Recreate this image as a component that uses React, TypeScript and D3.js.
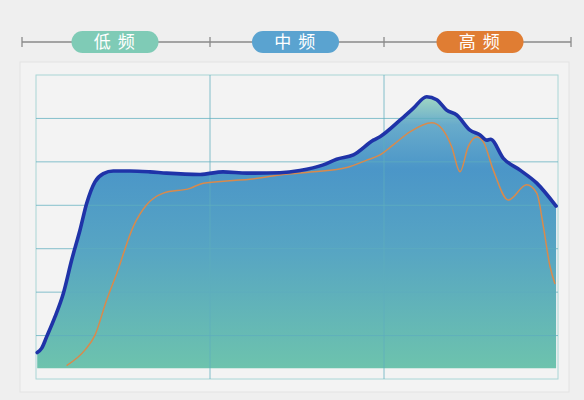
import * as d3 from "d3";
import React from "react";

// x: position across the three bands (0-300, 100 per band), y: level (grid step = 1)
const bands = ["低 频", "中 频", "高 频"];
const bandColors = ["#7fcbb6", "#5aa3d0", "#e07d33"];

const mainX = [0.7, 3.3, 6.1, 10.9, 15.7, 20.5, 25.3, 29.1, 33.9, 38.7, 44.4, 54, 65.5, 75.1, 94.3, 107.5, 121.3, 140.2, 151.7, 165.1, 172.8, 182.4, 193.9, 197.7, 209.2, 216.8, 224.5, 230.3, 236, 241.8, 249.4, 255.2, 259, 261.2, 268.6, 278.2, 287.8, 298.9];
const mainY = [0.61, 0.71, 0.97, 1.43, 1.97, 2.74, 3.43, 4.04, 4.54, 4.73, 4.79, 4.79, 4.77, 4.74, 4.71, 4.77, 4.74, 4.75, 4.8, 4.93, 5.06, 5.16, 5.5, 5.58, 5.96, 6.23, 6.5, 6.43, 6.19, 6.08, 5.73, 5.62, 5.5, 5.52, 5.08, 4.81, 4.51, 3.98];

const refX = [17.6, 28.2, 33.9, 40.6, 46.4, 55.9, 63.6, 73.2, 88.5, 96.1, 113.4, 123, 140.2, 159.4, 178.6, 190.1, 197.7, 205.3, 214.9, 227.4, 233.2, 238.9, 243.7, 248.4, 253.3, 257.1, 262.8, 271.4, 282, 287.8, 291.6, 295.4, 298.3];
const refY = [0.31, 0.67, 1.01, 1.82, 2.43, 3.51, 4.01, 4.28, 4.39, 4.51, 4.57, 4.6, 4.7, 4.77, 4.87, 5.04, 5.16, 5.39, 5.69, 5.9, 5.77, 5.35, 4.77, 5.35, 5.57, 5.46, 4.81, 4.12, 4.47, 4.28, 3.51, 2.59, 2.19];

const baseline = 0.25;

export default function App() {
  const width = 584;
  const height = 400;
  const plot = { left: 36, right: 558, top: 75, bottom: 379 };

  const xScale = d3.scaleLinear().domain([0, 300]).range([plot.left, plot.right]);
  const yScale = d3.scaleLinear().domain([0, 7]).range([plot.bottom, plot.top]);

  const mainData = mainX.map((x, i) => [x, mainY[i]] as [number, number]);
  const refData = refX.map((x, i) => [x, refY[i]] as [number, number]);

  const area = d3
    .area<[number, number]>()
    .curve(d3.curveMonotoneX)
    .x((d) => xScale(d[0]))
    .y0(yScale(baseline))
    .y1((d) => yScale(d[1]));
  const line = d3
    .line<[number, number]>()
    .curve(d3.curveMonotoneX)
    .x((d) => xScale(d[0]))
    .y((d) => yScale(d[1]));

  // top band axis
  const bandEdges = [0, 100, 200, 300];
  const topY = 42;
  const bandStops = [22, 210, 384, 571];
  const pillShift = [-1, -1.5, 2.5];

  return (
    <svg
      width={width}
      height={height}
      style={{ position: "absolute", left: 0, top: 0 }}
      fontFamily="'Noto Sans CJK SC', 'Noto Sans', sans-serif"
    >
      <defs>
        <linearGradient id="fillGrad" gradientUnits="userSpaceOnUse" x1={0} x2={0} y1={yScale(7)} y2={yScale(baseline)}>
          <stop offset="0.07" stopColor="#a3d9c3" />
          <stop offset="0.17" stopColor="#68abcb" />
          <stop offset="0.32" stopColor="#4b96c8" />
          <stop offset="0.6" stopColor="#57a5c3" />
          <stop offset="1" stopColor="#6dc3ad" />
        </linearGradient>
      </defs>
      <rect width={width} height={height} fill="#efefef" />
      <rect x={20} y={62} width={549} height={330} fill="#f3f3f3" stroke="#e3e3e3" />

      {/* top band axis */}
      <line x1={bandStops[0]} x2={bandStops[3]} y1={topY} y2={topY} stroke="#8a8a8a" strokeWidth={1.3} />
      {bandStops.map((x, i) => (
        <line key={i} x1={x} x2={x} y1={topY - 5} y2={topY + 5} stroke="#8a8a8a" strokeWidth={1.3} />
      ))}
      {bands.map((b, i) => {
        const cx = (bandStops[i] + bandStops[i + 1]) / 2 + pillShift[i];
        return (
          <g key={b} transform={`translate(${cx},${topY})`}>
            <rect x={-43.5} y={-11} width={87} height={22} rx={11} fill={bandColors[i]} />
            <text textAnchor="middle" dy="0.36em" fill="#fff" fontSize={17} letterSpacing={1.5}>
              {b}
            </text>
          </g>
        );
      })}

      {/* area */}
      <path d={area(mainData) || ""} fill="url(#fillGrad)" />

      {/* grid */}
      <rect
        x={plot.left}
        y={plot.top}
        width={plot.right - plot.left}
        height={plot.bottom - plot.top}
        fill="none"
        stroke="#a9d6d6"
        strokeWidth={1}
      />
      {d3.range(1, 7).map((v) => (
        <line key={"h" + v} x1={plot.left} x2={plot.right} y1={yScale(v)} y2={yScale(v)} stroke="#5fadbd" strokeOpacity={0.75} strokeWidth={1} />
      ))}
      {bandEdges.slice(1, 3).map((v) => (
        <line key={"v" + v} x1={xScale(v)} x2={xScale(v)} y1={plot.top} y2={plot.bottom} stroke="#5fadbd" strokeOpacity={0.75} strokeWidth={1} />
      ))}

      {/* lines */}
      <path d={line(refData) || ""} fill="none" stroke="#d98a4c" strokeWidth={1.5} />
      <path d={line(mainData) || ""} fill="none" stroke="#1f33a8" strokeWidth={3.6} strokeLinejoin="round" strokeLinecap="round" />
    </svg>
  );
}
